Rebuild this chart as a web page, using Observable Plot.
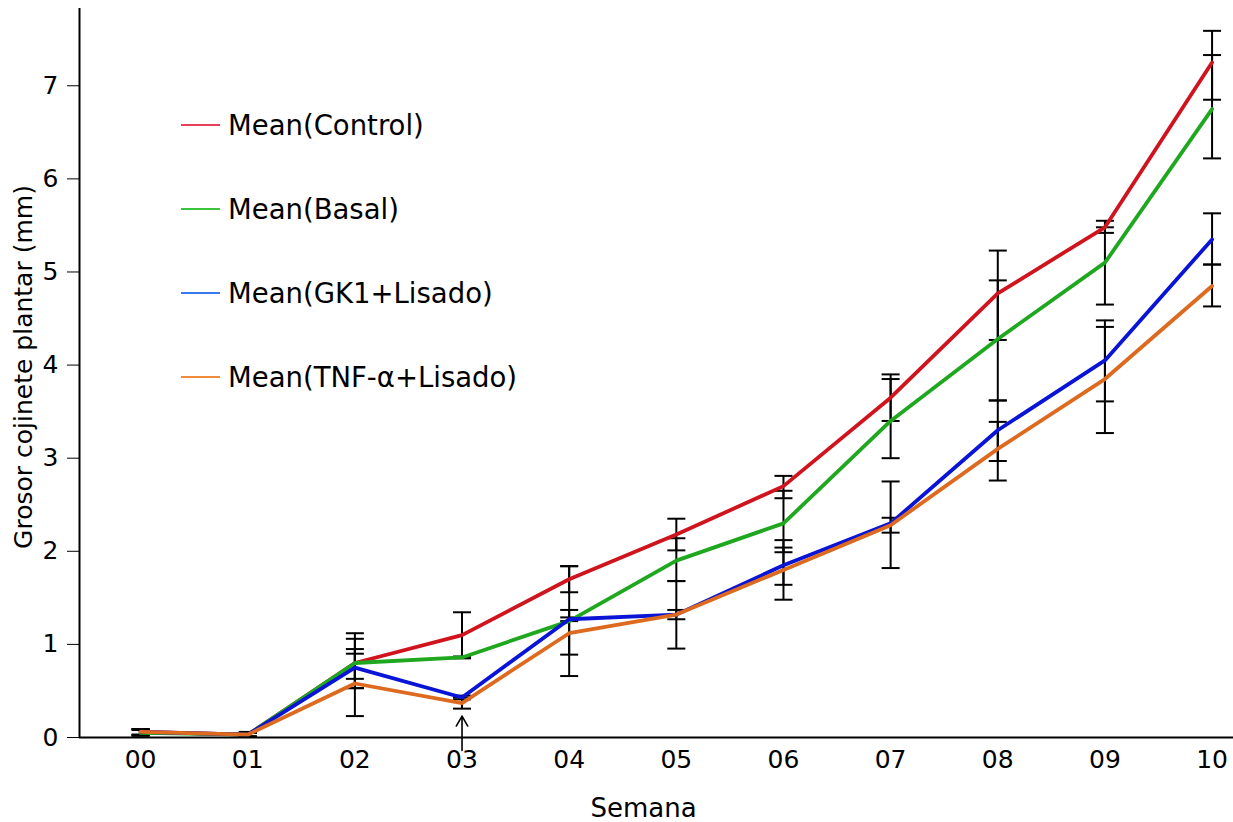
<!DOCTYPE html>
<html><head><meta charset="utf-8">
<script src="https://cdn.jsdelivr.net/npm/d3@7"></script>
<script src="https://cdn.jsdelivr.net/npm/@observablehq/plot@0.6"></script>
<style>
html,body{margin:0;padding:0;background:#fff;}
#wrap{position:relative;width:1233px;height:822px;}
#legend{position:absolute;left:181px;top:104px;font-family:"DejaVu Sans";font-size:27.5px;color:#000;}
.row{display:flex;align-items:center;height:42px;margin-bottom:42px;}
.sw{width:39px;height:2px;margin-right:8px;}
</style></head><body><div id="wrap"><div id="legend"></div></div>
<script>
const weeks = ["00","01","02","03","04","05","06","07","08","09","10"];
const series = ["Control","Basal","GK1+Lisado","TNF-α+Lisado"];
const lineColors = ["#d0141e","#1fa81f","#0a14d6","#dd6a1f"];
const legendColors = ["#e8405a","#3cc43c","#3a78f0","#f08a3c"];

const controlMean = [0.06,0.03,0.80,1.10,1.70,2.18,2.70,3.65,4.77,5.48,7.25];
const controlLo   = [0.03,0.01,0.53,0.86,1.56,2.01,2.57,3.40,4.27,5.42,6.85];
const controlHi   = [0.09,0.05,1.06,1.345,1.84,2.35,2.81,3.90,5.23,5.55,7.59];

const basalMean = [0.05,0.03,0.80,0.86,1.25,1.90,2.30,3.40,4.28,5.10,6.75];
const basalLo   = [0.02,0.01,0.63,0.85,0.66,1.68,1.99,3.00,3.62,4.65,6.22];
const basalHi   = [0.08,0.05,0.95,0.87,1.84,2.14,2.65,3.85,4.91,5.48,7.33];

const gk1Mean = [0.06,0.03,0.75,0.43,1.27,1.32,1.85,2.30,3.30,4.05,5.35];
const gk1Lo   = [0.03,0.01,0.53,0.41,1.25,0.955,1.64,1.82,2.97,3.61,5.08];
const gk1Hi   = [0.09,0.06,1.12,0.45,1.29,1.68,2.04,2.75,3.62,4.48,5.63];

const tnfMean = [0.06,0.03,0.58,0.37,1.12,1.32,1.80,2.28,3.10,3.85,4.85];
const tnfLo   = [0.02,0.01,0.23,0.31,0.89,1.27,1.48,2.20,2.76,3.27,4.63];
const tnfHi   = [0.09,0.05,0.90,0.43,1.37,1.37,2.12,2.36,3.39,4.41,5.08];

const yTicks = [0,1,2,3,4,5,6,7];
const xDomain = [-0.57, 10.2];
const yDomain = [0, 7.83];
const arrowMarks = [{week: 3, from: -0.14, to: 0.23}];
const xTitle = "Semana";
const yTitle = "Grosor cojinete plantar (mm)";

const means = [controlMean, basalMean, gk1Mean, tnfMean];
const los = [controlLo, basalLo, gk1Lo, tnfLo];
const his = [controlHi, basalHi, gk1Hi, tnfHi];

const rows = [];
series.forEach((s, si) => weeks.forEach((w, i) => rows.push({
  series: s, week: +w, mean: means[si][i], lo: los[si][i], hi: his[si][i]
})));
const caps = rows.flatMap(d => [{week: d.week, v: d.lo}, {week: d.week, v: d.hi}]);

const capSymbol = {draw(ctx) { ctx.moveTo(-9, 0); ctx.lineTo(9, 0); }};

const chart = Plot.plot({
  width: 1233, height: 822,
  marginLeft: 79, marginRight: 0, marginTop: 8, marginBottom: 85,
  style: {fontFamily: "DejaVu Sans", fontSize: "25px", color: "black", background: "white"},
  x: {domain: xDomain, ticks: weeks.map(Number), tickFormat: i => weeks[i], tickSize: 0, tickPadding: 13, label: null},
  y: {domain: yDomain, ticks: yTicks, tickSize: 12, tickPadding: 9, label: null},
  color: {domain: series, range: lineColors},
  marks: [
    Plot.ruleX(rows, {x: "week", y1: "lo", y2: "hi", stroke: "black", strokeWidth: 2}),
    Plot.dot(caps, {x: "week", y: "v", symbol: capSymbol, fill: "none", stroke: "black", strokeWidth: 2}),
    Plot.line(rows, {x: "week", y: "mean", z: "series", stroke: "series", strokeWidth: 3.8}),
    Plot.arrow(arrowMarks, {x1: "week", x2: "week", y1: "from", y2: "to", stroke: "black", strokeWidth: 1.6, headLength: 12}),
    Plot.ruleX([xDomain[0]], {stroke: "black", strokeWidth: 2}),
    Plot.ruleY([0], {stroke: "black", strokeWidth: 2}),
    Plot.text([xTitle], {frameAnchor: "bottom", textAnchor: "middle", lineAnchor: "middle", dx: -13, dy: 71, fontSize: 26}),
    Plot.text([yTitle], {frameAnchor: "left", textAnchor: "middle", lineAnchor: "middle", rotate: -90, dx: -56, dy: -6, fontSize: 25})
  ]
});
document.getElementById("wrap").prepend(chart);

const legend = document.getElementById("legend");
series.forEach((s, i) => {
  const row = document.createElement("div");
  row.className = "row";
  const sw = document.createElement("div");
  sw.className = "sw";
  sw.style.background = legendColors[i];
  const t = document.createElement("span");
  t.textContent = `Mean(${s})`;
  row.append(sw, t);
  legend.append(row);
});
</script>
</body></html>
